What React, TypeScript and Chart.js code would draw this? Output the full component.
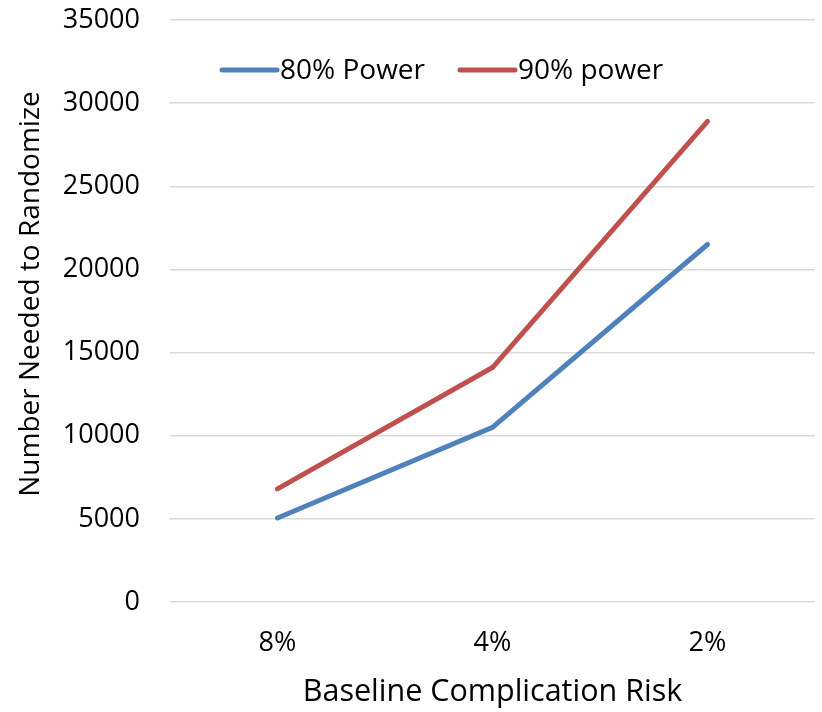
import React, { useEffect, useRef } from "react";
import { Chart, registerables } from "chart.js";

Chart.register(...registerables);

const categories = ["8%", "4%", "2%"];
const power80 = [5050, 10500, 21500];
const power90 = [6800, 14100, 28900];
const seriesLabels = ["80% Power", "90% power"];
const seriesColors = ["#4f81bd", "#c0504d"];
const yTicks = { min: 0, max: 35000, step: 5000 };
const yTitle = "Number Needed to Randomize";
const xTitle = "Baseline Complication Risk";

const FONT = "'Open Sans', sans-serif";

const legendPlugin = {
  id: "floatLegend",
  afterDraw(chart: any) {
    const ctx = chart.ctx;
    const area = chart.chartArea;
    const y = 70;
    let x = area.left + 52;
    ctx.save();
    ctx.font = `28px ${FONT}`;
    ctx.textBaseline = "middle";
    ctx.fillStyle = "#000";
    chart.data.datasets.forEach((ds: any) => {
      ctx.strokeStyle = ds.borderColor;
      ctx.lineWidth = 5;
      ctx.lineCap = "round";
      ctx.beginPath();
      ctx.moveTo(x, y);
      ctx.lineTo(x + 55, y);
      ctx.stroke();
      x += 58;
      ctx.fillText(ds.label, x, y + 1);
      x += ctx.measureText(ds.label).width + 35;
    });
    ctx.restore();
  },
};

const yTitlePlugin = {
  id: "yTitle",
  afterDraw(chart: any) {
    const ctx = chart.ctx;
    const area = chart.chartArea;
    ctx.save();
    ctx.font = `28px ${FONT}`;
    ctx.fillStyle = "#000";
    ctx.textAlign = "center";
    ctx.textBaseline = "middle";
    ctx.translate(31, (area.top + area.bottom) / 2 - 17);
    ctx.rotate(-Math.PI / 2);
    ctx.fillText(yTitle, 0, 0);
    ctx.restore();
  },
};

export default function App() {
  const ref = useRef<HTMLCanvasElement | null>(null);
  useEffect(() => {
    document.body.style.margin = "0";
    const chart = new Chart(ref.current!, {
      type: "line",
      data: {
        labels: categories,
        datasets: [
          {
            label: seriesLabels[0],
            data: power80,
            borderColor: seriesColors[0],
            backgroundColor: seriesColors[0],
            borderWidth: 5,
            pointRadius: 0,
            tension: 0,
            borderCapStyle: "round",
          },
          {
            label: seriesLabels[1],
            data: power90,
            borderColor: seriesColors[1],
            backgroundColor: seriesColors[1],
            borderWidth: 5,
            pointRadius: 0,
            tension: 0,
            borderCapStyle: "round",
          },
        ],
      },
      options: {
        animation: false,
        responsive: false,
        layout: { padding: { top: 20, right: 7, left: 0, bottom: 0 } },
        plugins: { legend: { display: false }, tooltip: { enabled: false } },
        scales: {
          x: {
            offset: true,
            grid: { display: false, drawTicks: false },
            border: { display: false },
            ticks: { color: "#000", font: { family: FONT, size: 27 }, padding: 25 },
            title: {
              display: true,
              text: xTitle,
              color: "#000",
              font: { family: FONT, size: 30.5 },
              padding: { top: 0, bottom: 1 },
            },
            afterFit(scale: any) {
              scale.height = 110;
              scale.paddingLeft = 0;
              scale.paddingRight = 0;
            },
          },
          y: {
            min: yTicks.min,
            max: yTicks.max,
            grid: { color: "#d9d9d9", lineWidth: 1.5, drawTicks: false },
            border: { display: false },
            ticks: {
              stepSize: yTicks.step,
              color: "#000",
              font: { family: FONT, size: 27 },
              padding: 30,
              callback: (v: any) => String(v),
            },
            title: { display: false },
            afterFit(scale: any) {
              scale.width = 170;
              scale.paddingTop = 0;
              scale.paddingBottom = 0;
            },
          },
        },
      },
      plugins: [legendPlugin, yTitlePlugin],
    });
    return () => chart.destroy();
  }, []);
  return (
    <div style={{ width: 822, height: 712 }}>
      <canvas ref={ref} width={822} height={712} style={{ display: "block" }} />
    </div>
  );
}
